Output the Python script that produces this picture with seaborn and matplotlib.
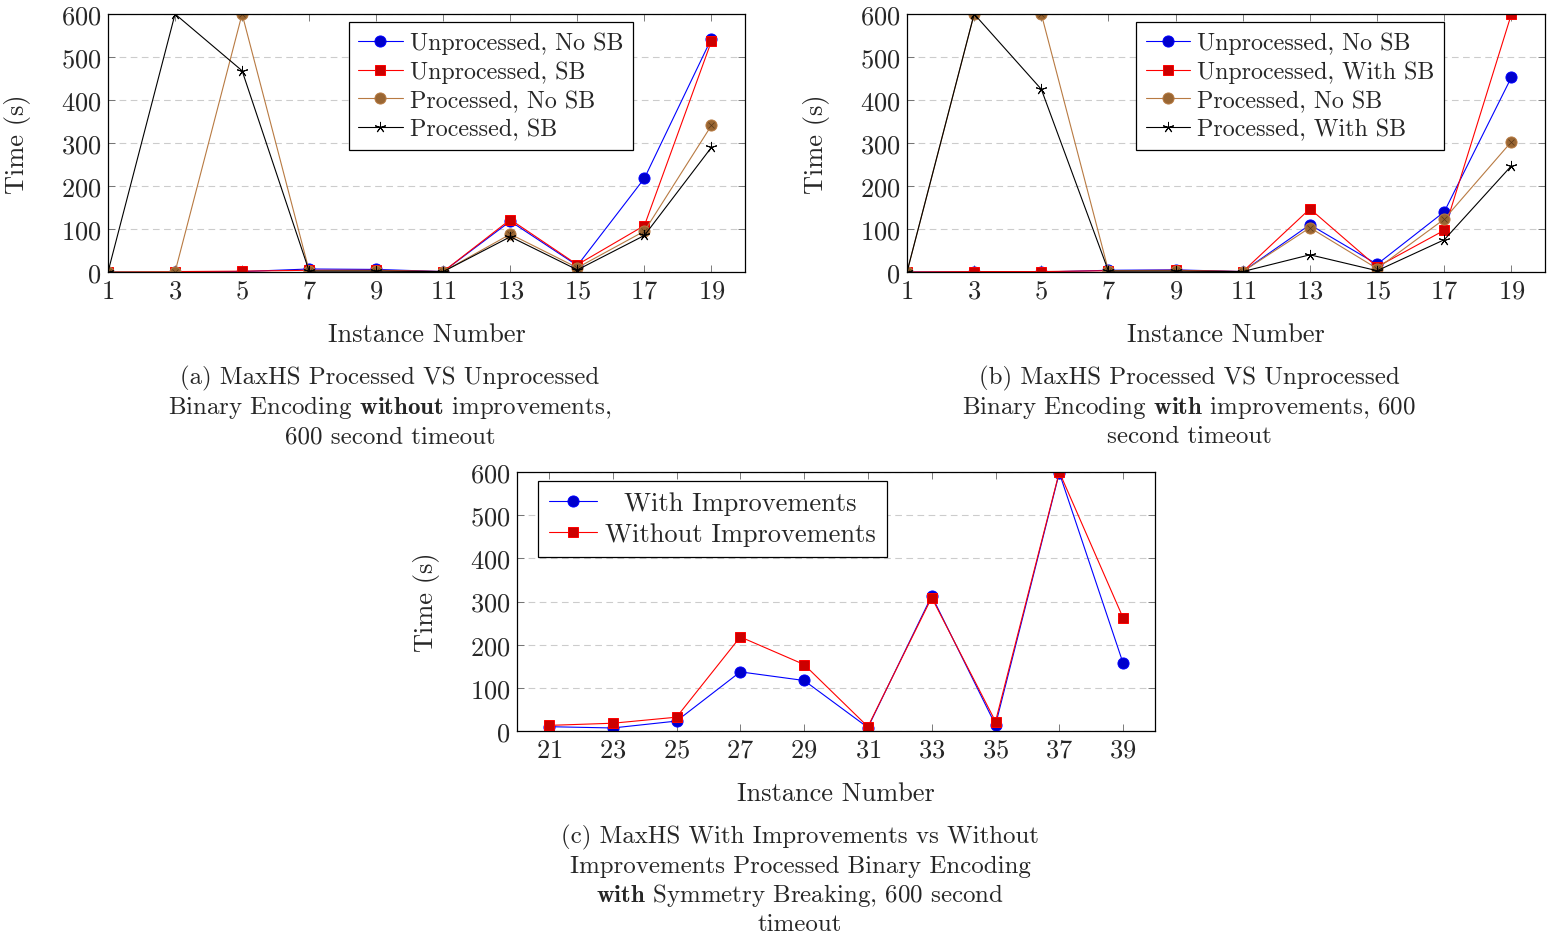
import matplotlib
matplotlib.use("Agg")
import matplotlib.pyplot as plt
import seaborn as sns

# instance numbers
inst_ab = [1, 3, 5, 7, 9, 11, 13, 15, 17, 19]
inst_c = [21, 23, 25, 27, 29, 31, 33, 35, 37, 39]

# (a) without improvements
a_unproc_nosb = [0, 0, 1, 7, 6, 1, 118, 15, 218, 543]
a_unproc_sb = [0, 1, 2, 4, 4, 1, 122, 17, 108, 537]
a_proc_nosb = [0, 0, 600, 3, 3, 1, 88, 10, 95, 341]
a_proc_sb = [0, 600, 468, 2, 2, 1, 82, 5, 85, 290]

# (b) with improvements
b_unproc_nosb = [0, 0, 0, 4, 5, 1, 110, 18, 140, 453]
b_unproc_sb = [0, 1, 1, 3, 4, 1, 147, 12, 97, 600]
b_proc_nosb = [0, 600, 600, 3, 3, 1, 103, 8, 123, 303]
b_proc_sb = [0, 600, 425, 2, 2, 1, 40, 3, 75, 247]

# (c) with vs without improvements
c_with = [10, 7, 23, 137, 117, 8, 313, 14, 598, 157]
c_without = [13, 18, 32, 218, 154, 10, 309, 22, 600, 262]

labels_a = ["Unprocessed, No SB", "Unprocessed, SB", "Processed, No SB", "Processed, SB"]
labels_b = ["Unprocessed, No SB", "Unprocessed, With SB", "Processed, No SB", "Processed, With SB"]
labels_c = ["With Improvements", "Without Improvements"]

sns.set_style("ticks")
plt.rcParams["font.family"] = ["cmr10"]
plt.rcParams["mathtext.fontset"] = "cm"
plt.rcParams["axes.formatter.use_mathtext"] = True

FS = 19      # ticks and axis labels
LFS = 17.3   # legend (a), (b)
CFS = 17.9   # captions
BROWN = (0.72, 0.48, 0.26)
BROWN_F = (0.6, 0.4, 0.2)

fig = plt.figure(figsize=(15.54, 9.37), dpi=100)
W, H = 1554, 937


def add_ax(x0, x1, y0, y1):
    return fig.add_axes([x0 / W, 1 - y1 / H, (x1 - x0) / W, (y1 - y0) / H])


def style(ax, xlim, xticks):
    ax.set_xlim(*xlim)
    ax.set_ylim(0, 600)
    ax.set_xticks(xticks)
    ax.set_yticks(range(0, 601, 100))
    ax.tick_params(direction="in", top=True, right=True, labelsize=FS,
                   length=5, width=0.6, color="0.4", pad=5)
    for s in ax.spines.values():
        s.set_linewidth(0.9)
        s.set_color("black")
    ax.yaxis.grid(True, linestyle=(0, (6, 4)), color="0.8", linewidth=0.8)
    ax.set_axisbelow(True)
    ax.set_xlabel("Instance Number", fontsize=FS, labelpad=14)
    ax.set_ylabel("Time (s)", fontsize=FS, labelpad=21)


def line(ax, x, y, color, marker, mfc, ms, label):
    sns.lineplot(x=x, y=y, ax=ax, color=color, marker=marker, markersize=ms,
                 markerfacecolor=mfc, markeredgecolor=color, markeredgewidth=0.7,
                 linewidth=0.8, label=label, sort=False, estimator=None)


def four(ax, ys, labels):
    line(ax, inst_ab, ys[0], "blue", "o", (0, 0, 0.8), 8, labels[0])
    line(ax, inst_ab, ys[1], "red", "s", (0.8, 0, 0), 7.5, labels[1])
    line(ax, inst_ab, ys[2], BROWN, "o", BROWN_F, 8, labels[2])
    ax.plot(inst_ab, ys[2], linestyle="none", marker="x", markersize=5,
            markeredgecolor=(0.35, 0.22, 0.1), markeredgewidth=0.5)
    line(ax, inst_ab, ys[3], "black", (5, 2, 0), "black", 8, labels[3])


ax_a = add_ax(108, 745, 15, 273)
style(ax_a, (1, 20), inst_ab)
four(ax_a, [a_unproc_nosb, a_unproc_sb, a_proc_nosb, a_proc_sb], labels_a)

ax_b = add_ax(907, 1545, 15, 273)
style(ax_b, (1, 20), inst_ab)
four(ax_b, [b_unproc_nosb, b_unproc_sb, b_proc_nosb, b_proc_sb], labels_b)

ax_c = add_ax(517, 1155, 473, 732)
style(ax_c, (20, 40), inst_c)
line(ax_c, inst_c, c_with, "blue", "o", (0, 0, 0.8), 8, labels_c[0])
line(ax_c, inst_c, c_without, "red", "s", (0.8, 0, 0), 7.5, labels_c[1])

leg_kw = dict(frameon=True, fancybox=False, edgecolor="black",
              framealpha=1, borderaxespad=0, handlelength=1.85, handletextpad=0.3,
              labelspacing=0.27, borderpad=0.4)
legs = []
for ax, anchor, loc, fs in [(ax_a, (0.824, 0.969), "upper right", LFS),
                            (ax_b, (0.842, 0.969), "upper right", LFS),
                            (ax_c, (0.033, 0.965), "upper left", FS)]:
    leg = ax.legend(loc=loc, bbox_to_anchor=anchor, fontsize=fs, **leg_kw)
    leg.get_frame().set_linewidth(0.9)
    legs.append(leg)

# legend (c) has its entries centred in the text column
fig.canvas.draw()
r = fig.canvas.get_renderer()
tc = legs[2].get_texts()
wmax = max(t.get_window_extent(r).width for t in tc)
for t in tc:
    t.set_position(((wmax - t.get_window_extent(r).width) / 2, 0))

cap_a = ["(a) MaxHS Processed VS Unprocessed",
         r"Binary Encoding $\mathbf{without}$ improvements,",
         "600 second timeout"]
cap_b = ["(b) MaxHS Processed VS Unprocessed",
         r"Binary Encoding $\mathbf{with}$ improvements, 600",
         "second timeout"]
cap_c = ["(c) MaxHS With Improvements vs Without",
         "Improvements Processed Binary Encoding",
         r"$\mathbf{with}$ Symmetry Breaking, 600 second",
         "timeout"]
for cx, ys, cap in [(390, [378, 408, 437], cap_a),
                    (1189, [378, 408, 437], cap_b),
                    (800, [837, 867, 896, 925], cap_c)]:
    for yy, t in zip(ys, cap):
        fig.text(cx / W, 1 - yy / H, t, ha="center", va="center", fontsize=CFS)

fig.savefig("out.png", dpi=100)
